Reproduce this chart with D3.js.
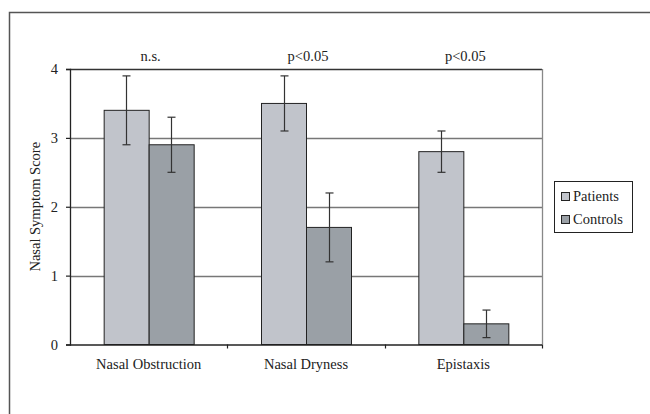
<!DOCTYPE html>
<html>
<head>
<meta charset="utf-8">
<script src="https://cdn.jsdelivr.net/npm/d3@7"></script>
<style>
  html, body { margin: 0; padding: 0; background: #fff; }
  svg { display: block; }
  svg text { font-family: 'Liberation Serif', 'Times New Roman', Tinos, 'DejaVu Serif', serif; }
</style>
</head>
<body>
<svg id="chart" width="650" height="414"></svg>
<script>
const categories = ["Nasal Obstruction", "Nasal Dryness", "Epistaxis"];
const seriesNames = ["Patients", "Controls"];
const patientsMean = [3.4, 3.5, 2.8];
const patientsErr = [0.5, 0.4, 0.3];
const controlsMean = [2.9, 1.7, 0.3];
const controlsErr = [0.4, 0.5, 0.2];
const significance = ["n.s.", "p<0.05", "p<0.05"];
const yTicks = [0, 1, 2, 3, 4];
const colors = ["#c1c4cb", "#9aa0a6"];

const svg = d3.select("#chart");
const fontSize = 14.5;

// outer frame
svg.append("path")
  .attr("d", "M9.5,420 L9.5,12.5 L660,12.5")
  .attr("fill", "none").attr("stroke", "#555").attr("stroke-width", 1.5);

const plot = { left: 70, right: 542, top: 69, bottom: 344.5 };

const x0 = d3.scaleBand().domain(categories).range([plot.left, plot.right]).paddingInner(0).paddingOuter(0);
const x1 = d3.scaleBand().domain(seriesNames).range([0, 90]);
const y = d3.scaleLinear().domain([0, 4]).range([plot.bottom, plot.top]);

// gridlines
svg.append("g").selectAll("line").data(yTicks.filter(t => t > 0)).join("line")
  .attr("x1", plot.left).attr("x2", plot.right)
  .attr("y1", d => Math.round(y(d)) + 0.5).attr("y2", d => Math.round(y(d)) + 0.5)
  .attr("stroke", d => d === 4 ? "#333" : "#777").attr("stroke-width", 1.3);

// right border
svg.append("line")
  .attr("x1", plot.right + 0.5).attr("x2", plot.right + 0.5)
  .attr("y1", plot.top).attr("y2", plot.bottom)
  .attr("stroke", "#888").attr("stroke-width", 1.3);

const data = [];
categories.forEach((c, i) => {
  data.push({ cat: c, s: "Patients", v: patientsMean[i], e: patientsErr[i] });
  data.push({ cat: c, s: "Controls", v: controlsMean[i], e: controlsErr[i] });
});

const bx = d => x0(d.cat) + (x0.bandwidth() - 90) / 2 + x1(d.s);

// bars
svg.append("g").selectAll("rect").data(data).join("rect")
  .attr("x", d => bx(d) + 0.5)
  .attr("y", d => y(d.v))
  .attr("width", x1.bandwidth())
  .attr("height", d => y(0) - y(d.v))
  .attr("fill", d => colors[seriesNames.indexOf(d.s)])
  .attr("stroke", "#222").attr("stroke-width", 1);

// error bars
const eg = svg.append("g").attr("stroke", "#333").attr("stroke-width", 1.2);
data.forEach(d => {
  const cx = Math.round(bx(d) + x1.bandwidth() / 2) + 0.5;
  const yt = y(d.v + d.e), yb = y(d.v - d.e);
  eg.append("line").attr("x1", cx).attr("x2", cx).attr("y1", yt).attr("y2", yb);
  eg.append("line").attr("x1", cx - 4).attr("x2", cx + 4).attr("y1", yt).attr("y2", yt);
  eg.append("line").attr("x1", cx - 4).attr("x2", cx + 4).attr("y1", yb).attr("y2", yb);
});

// y axis
const yAxis = svg.append("g").attr("transform", `translate(${plot.left},0)`)
  .call(d3.axisLeft(y).tickValues(yTicks).tickSize(4).tickPadding(8).tickFormat(d3.format("d")));
yAxis.attr("font-size", fontSize);
yAxis.select(".domain").attr("stroke", "#222").attr("stroke-width", 1.3);
yAxis.selectAll(".tick line").attr("stroke", "#222").attr("stroke-width", 1.2);
yAxis.selectAll("text").attr("fill", "#222");

// x axis
svg.append("line").attr("x1", plot.left).attr("x2", plot.right)
  .attr("y1", plot.bottom + 0.5).attr("y2", plot.bottom + 0.5)
  .attr("stroke", "#222").attr("stroke-width", 1.3);
const xb = categories.map(c => x0(c)).concat([plot.right]);
svg.append("g").selectAll("line").data(xb.slice(1)).join("line")
  .attr("x1", d => Math.round(d) + 0.5).attr("x2", d => Math.round(d) + 0.5)
  .attr("y1", plot.bottom).attr("y2", plot.bottom + 4)
  .attr("stroke", "#222").attr("stroke-width", 1.2);

svg.append("g").selectAll("text").data(categories).join("text")
  .attr("x", d => x0(d) + x0.bandwidth() / 2)
  .attr("y", 369)
  .attr("text-anchor", "middle")
  .attr("font-size", fontSize).attr("fill", "#222")
  .text(d => d);

// significance labels
svg.append("g").selectAll("text").data(categories).join("text")
  .attr("x", d => x0(d) + x0.bandwidth() / 2 + 2)
  .attr("y", 61)
  .attr("text-anchor", "middle")
  .attr("font-size", fontSize).attr("fill", "#222")
  .text((d, i) => significance[i]);

// y label
svg.append("text")
  .attr("transform", `translate(40,${(plot.top + plot.bottom) / 2}) rotate(-90)`)
  .attr("text-anchor", "middle")
  .attr("font-size", fontSize).attr("fill", "#222")
  .text("Nasal Symptom Score");

// legend
const lg = svg.append("g");
lg.append("rect").attr("x", 554.5).attr("y", 181.5).attr("width", 78).attr("height", 51)
  .attr("fill", "#fff").attr("stroke", "#222").attr("stroke-width", 1);
seriesNames.forEach((s, i) => {
  lg.append("rect").attr("x", 561.5).attr("y", 192.5 + i * 23).attr("width", 8).attr("height", 8)
    .attr("fill", colors[i]).attr("stroke", "#222").attr("stroke-width", 1);
  lg.append("text").attr("x", 573).attr("y", 201 + i * 23).attr("font-size", fontSize)
    .attr("fill", "#222").text(s);
});
</script>
</body>
</html>
